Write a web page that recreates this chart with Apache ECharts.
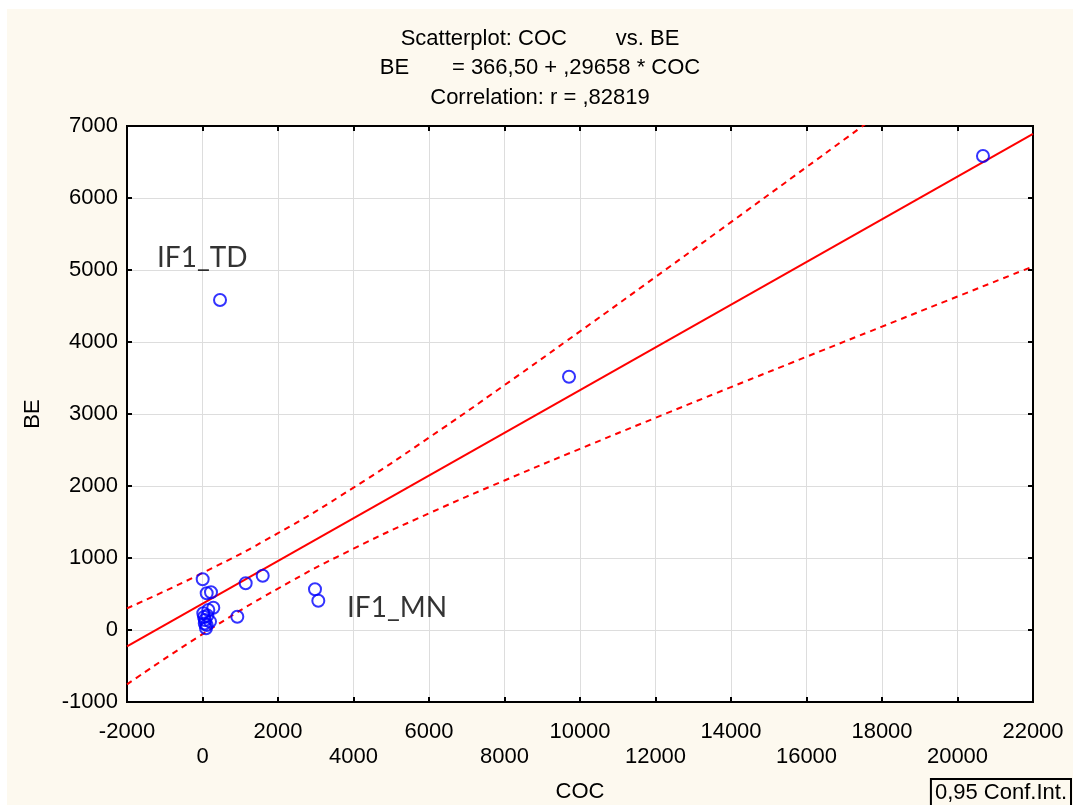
<!DOCTYPE html>
<html>
<head>
<meta charset="utf-8">
<script src="https://cdn.jsdelivr.net/npm/echarts@6/dist/echarts.min.js"></script>
<style>
html,body{margin:0;padding:0;background:#ffffff;}
#wrap{position:relative;width:1073px;height:805px;overflow:hidden;background:#ffffff;}
#chart{position:absolute;left:7px;top:9px;width:1066px;height:796px;}
</style>
</head>
<body>
<div id="wrap"><div id="chart"></div></div>
<script>
// ---- data ----
const xTicks = {min: -2000, max: 22000, interval: 2000};
const yTicks = {min: -1000, max: 7000, interval: 1000};

// scatter points: [COC, BE]
const points = [
  [20675, 6583], [9709, 3518], [464, 4583], [1595, 754], [1144, 649],
  [2980, 565], [3068, 407], [922, 185], [5, 704], [111, 510], [225, 524],
  [286, 310], [154, 278], [21, 232], [66, 139], [111, 69], [93, 24],
  [199, 117], [40, 180], [130, 200], [60, 90]
];

// regression line endpoints (BE = 366,50 + ,29658 * COC)
const fitLine = [[-2000, -227], [22000, 6891]];

// 0,95 confidence band
const bandX     = [-2000, 0, 2000, 4000, 6000, 8000, 10000, 12000, 14000, 16000, 17000, 18000];
const upperBand = [301, 792, 1345, 1977, 2672, 3401, 4148, 4903, 5665, 6429, 6812, 7196];
const lowerX    = [-2000, 0, 2000, 4000, 6000, 8000, 10000, 12000, 14000, 16000, 18000, 20000, 22000];
const lowerBand = [-755, -58, 575, 1129, 1620, 2077, 2516, 2947, 3373, 3795, 4214, 4632, 5050];

// annotations
const notes = [
  {name: 'IF1_TD', value: [-1205, 5167]},
  {name: 'IF1_MN', value: [3828, 306]}
];

const titleLines = [
  'Scatterplot: COC        vs. BE',
  'BE       = 366,50 + ,29658 * COC',
  'Correlation: r = ,82819'
];
const xName = 'COC';
const yName = 'BE';
const ciName = '0,95 Conf.Int.';

const FONT = 'Liberation Sans, Arial, sans-serif';

const chart = echarts.init(document.getElementById('chart'), null, {renderer: 'canvas'});
const zip = (xs, ys) => xs.map((x, i) => [x, ys[i]]);

chart.setOption({
  backgroundColor: '#fdf9ef',
  animation: false,
  textStyle: {fontFamily: FONT, color: '#000'},
  title: {
    text: titleLines.join('\n'),
    left: 'center',
    top: 10,
    textStyle: {fontFamily: FONT, fontSize: 22, fontWeight: 'normal', color: '#000', lineHeight: 29.5}
  },
  legend: {
    data: [{name: ciName, icon: 'none'}],
    top: 770,
    right: 2,
    itemWidth: 0,
    itemHeight: 0,
    itemGap: 0,
    padding: [3, 4, 6, 4],
    borderColor: '#000',
    borderWidth: 2,
    backgroundColor: '#fdf9ef',
    selectedMode: false,
    textStyle: {fontFamily: FONT, fontSize: 22, color: '#000', padding: [0, 0, 0, -5]}
  },
  grid: {
    left: 120, top: 117, right: 40, bottom: 103,
    outerBoundsMode: 'none', containLabel: false,
    show: true, backgroundColor: '#ffffff', borderColor: '#000', borderWidth: 2
  },
  xAxis: [{
    type: 'value', position: 'bottom',
    min: xTicks.min, max: xTicks.max, interval: xTicks.interval,
    name: xName, nameLocation: 'middle', nameGap: 79,
    nameTextStyle: {fontFamily: FONT, fontSize: 22, color: '#000'},
    axisLine: {show: true, onZero: false, lineStyle: {color: '#000', width: 2}},
    axisTick: {show: true, inside: true, length: 5, lineStyle: {color: '#000', width: 2}},
    axisLabel: {
      margin: 17, fontFamily: FONT, fontSize: 22, color: '#000', lineHeight: 25,
      formatter: v => (Math.abs(Math.round(v / xTicks.interval)) % 2 === 0 ? '\n' + v : '' + v)
    },
    splitLine: {show: true, lineStyle: {color: '#dddddd', width: 1}}
  }, {
    type: 'value', position: 'top',
    min: xTicks.min, max: xTicks.max, interval: xTicks.interval,
    axisLine: {show: true, onZero: false, lineStyle: {color: '#000', width: 2}},
    axisTick: {show: true, inside: true, length: 5, lineStyle: {color: '#000', width: 2}},
    axisLabel: {show: false}, splitLine: {show: false}
  }],
  yAxis: [{
    type: 'value', position: 'left',
    min: yTicks.min, max: yTicks.max, interval: yTicks.interval,
    name: yName, nameLocation: 'middle', nameGap: 83,
    nameTextStyle: {fontFamily: FONT, fontSize: 22, color: '#000'},
    axisLine: {show: true, onZero: false, lineStyle: {color: '#000', width: 2}},
    axisTick: {show: true, inside: true, length: 5, lineStyle: {color: '#000', width: 2}},
    axisLabel: {margin: 9, fontFamily: FONT, fontSize: 22, color: '#000', formatter: v => '' + v},
    splitLine: {show: true, lineStyle: {color: '#dddddd', width: 1}}
  }, {
    type: 'value', position: 'right',
    min: yTicks.min, max: yTicks.max, interval: yTicks.interval,
    axisLine: {show: true, onZero: false, lineStyle: {color: '#000', width: 2}},
    axisTick: {show: true, inside: true, length: 5, lineStyle: {color: '#000', width: 2}},
    axisLabel: {show: false}, splitLine: {show: false}
  }],
  series: [
    {
      name: 'fit', type: 'line', data: fitLine, symbol: 'none', clip: true,
      lineStyle: {color: '#ff0000', width: 2}, z: 3
    },
    {
      name: ciName, type: 'line', data: zip(bandX, upperBand), symbol: 'none', smooth: true, clip: true,
      lineStyle: {color: '#ff0000', width: 2, type: [6, 5]}, itemStyle: {color: '#ff0000'}, z: 3
    },
    {
      name: ciName, type: 'line', data: zip(lowerX, lowerBand), symbol: 'none', smooth: true, clip: true,
      lineStyle: {color: '#ff0000', width: 2, type: [6, 5]}, itemStyle: {color: '#ff0000'}, z: 3
    },
    {
      name: 'points', type: 'scatter', data: points, symbol: 'circle', symbolSize: 12,
      itemStyle: {color: 'rgba(0,0,0,0)', borderColor: '#0000ff', borderWidth: 2}, z: 4
    },
    {
      name: 'notes', type: 'scatter', data: notes, symbolSize: 0,
      label: {
        show: true, position: 'right', distance: 0,
        formatter: p => p.name,
        fontFamily: 'Lato, Open Sans, sans-serif', fontSize: 28, color: '#000'
      },
      z: 5
    }
  ]
});
</script>
</body>
</html>
